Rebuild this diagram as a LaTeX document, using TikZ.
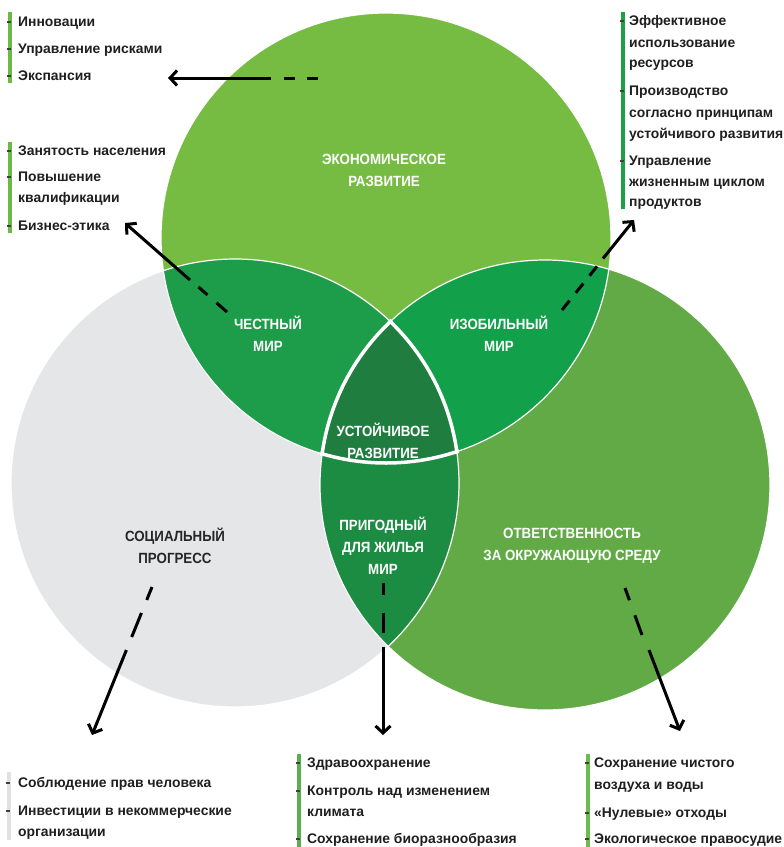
\documentclass[tikz,border=0pt]{standalone}
\usepackage{fontspec}
\setmainfont{Liberation Sans}
\newfontfamily\condfont{Liberation Sans}[FakeStretch=0.9]
\usetikzlibrary{arrows.meta}
\definecolor{cGray}{HTML}{E5E6E8}
\definecolor{cTop}{HTML}{76BC43}
\definecolor{cRight}{HTML}{62AA46}
\definecolor{cTL}{HTML}{1D9C4A}
\definecolor{cTR}{HTML}{12A04B}
\definecolor{cLR}{HTML}{1D8C43}
\definecolor{cC}{HTML}{1F7D3F}
\definecolor{barA}{HTML}{6DB946}
\definecolor{barB}{HTML}{1E9F4A}
\definecolor{barC}{HTML}{E0E0E0}
\definecolor{barD}{HTML}{5BAF4F}
\definecolor{barE}{HTML}{6CBB4E}
\begin{document}
\begin{tikzpicture}[x=1pt,y=-1pt,
  itm/.style={anchor=base west, inner sep=0pt, font=\fontsize{13.9}{15}\selectfont\bfseries, text=black!88},
  clab/.style={align=center, inner sep=0pt, font=\condfont\fontsize{14.8}{22}\selectfont\bfseries, text=white},
  arr/.style={line width=3pt, black, -{Straight Barb[length=7pt,width=15pt]}},
  dsh/.style={line width=3pt, black},
  bmark/.style={fill=black!75},
]
\useasboundingbox (0,0) rectangle (784,847);
\fill[white] (0,0) rectangle (784,847);

% circles
\fill[cGray] (235,483) circle (224pt);
\fill[cTop] (386,238) circle (225pt);
\fill[cRight] (545,485) circle (225pt);
\begin{scope}\clip (386,238) circle (225pt); \fill[cTL] (235,483) circle (224pt); \end{scope}
\begin{scope}\clip (386,238) circle (225pt); \fill[cTR] (545,485) circle (225pt); \end{scope}
\begin{scope}\clip (235,483) circle (224pt); \fill[cLR] (545,485) circle (225pt); \end{scope}
\begin{scope}\clip (386,238) circle (225pt); \clip (235,483) circle (224pt); \fill[cC] (545,485) circle (225pt); \end{scope}
% thin white outlines
\draw[white, line width=1.2pt] (386,238) circle (225pt);
\draw[white, line width=1.2pt] (235,483) circle (224pt);
\draw[white, line width=1.2pt] (545,485) circle (225pt);
% thick outline of the centre
\begin{scope}\clip (386,238) circle (227pt); \clip (235,483) circle (226pt); \draw[white, line width=3.5pt] (545,485) circle (225pt); \end{scope}
\begin{scope}\clip (386,238) circle (227pt); \clip (545,485) circle (227pt); \draw[white, line width=3.5pt] (235,483) circle (224pt); \end{scope}
\begin{scope}\clip (235,483) circle (226pt); \clip (545,485) circle (227pt); \draw[white, line width=3.5pt] (386,238) circle (225pt); \end{scope}

% circle labels
\node[clab] (econ) at (384,170) {ЭКОНОМИЧЕСКОЕ\\РАЗВИТИЕ};
\node[clab] (fair) at (268,334) {ЧЕСТНЫЙ\\МИР};
\node[clab] (abund) at (499,334) {ИЗОБИЛЬНЫЙ\\МИР};
\node[clab] (sust) at (383,441) {УСТОЙЧИВОЕ\\РАЗВИТИЕ};
\node[clab] (liv) at (383,546) {ПРИГОДНЫЙ\\ДЛЯ ЖИЛЬЯ\\МИР};
\node[clab, text=black!85] (soc) at (175,546) {СОЦИАЛЬНЫЙ\\ПРОГРЕСС};
\node[clab] (env) at (572,546) {ОТВЕТСТВЕННОСТЬ\\ЗА ОКРУЖАЮЩУЮ СРЕДУ};

% list 1 (top left)
\fill[barA] (8,12) rectangle (12,83);
\fill[bmark] (7,20.5) rectangle (11,22.5);
\fill[bmark] (7,47.5) rectangle (11,49.5);
\fill[bmark] (7,74.5) rectangle (11,76.5);
\node[itm] (i1a) at (18,26) {Инновации};
\node[itm] (i1b) at (18,53) {Управление рисками};
\node[itm] (i1c) at (18,80) {Экспансия};

% list 2 (left middle)
\fill[barA] (8,142) rectangle (12,233);
\fill[bmark] (7,149.5) rectangle (11,151.5);
\fill[bmark] (7,175.5) rectangle (11,177.5);
\fill[bmark] (7,224.5) rectangle (11,226.5);
\node[itm] (i2a) at (18,155) {Занятость населения};
\node[itm] (i2b) at (18,181) {Повышение};
\node[itm] (i2c) at (18,202) {квалификации};
\node[itm] (i2d) at (18,230) {Бизнес-этика};

% list 3 (top right)
\fill[barB] (621,12) rectangle (625,209);
\fill[bmark] (620,19.5) rectangle (624,21.5);
\fill[bmark] (620,89.5) rectangle (624,91.5);
\fill[bmark] (620,159.5) rectangle (624,161.5);
\node[itm] (i3a) at (629,25) {Эффективное};
\node[itm] (i3b) at (629,47) {использование};
\node[itm] (i3c) at (629,67) {ресурсов};
\node[itm] (i3d) at (629,95) {Производство};
\node[itm] (i3e) at (629,117) {согласно принципам};
\node[itm] (i3f) at (629,138) {устойчивого развития};
\node[itm] (i3g) at (629,165) {Управление};
\node[itm] (i3h) at (629,186) {жизненным циклом};
\node[itm] (i3i) at (629,206) {продуктов};

% list 4 (bottom left)
\fill[barC] (7,772) rectangle (11,840);
\fill[bmark] (6,781.5) rectangle (10,783.5);
\fill[bmark] (6,809.5) rectangle (10,811.5);
\node[itm] (i4a) at (18,787) {Соблюдение прав человека};
\node[itm] (i4b) at (18,815) {Инвестиции в некоммерческие};
\node[itm] (i4c) at (18,836) {организации};

% list 5 (bottom middle)
\fill[barD] (297,754) rectangle (301,847);
\fill[bmark] (296,761.5) rectangle (300,763.5);
\fill[bmark] (296,789.5) rectangle (300,791.5);
\fill[bmark] (296,837.5) rectangle (300,839.5);
\node[itm] (i5a) at (307,767) {Здравоохранение};
\node[itm] (i5b) at (307,795) {Контроль над изменением};
\node[itm] (i5c) at (307,816) {климата};
\node[itm] (i5d) at (307,843) {Сохранение биоразнообразия};

% list 6 (bottom right)
\fill[barE] (586,754) rectangle (590,847);
\fill[bmark] (585,761.5) rectangle (589,763.5);
\fill[bmark] (585,811.5) rectangle (589,813.5);
\fill[bmark] (585,837.5) rectangle (589,839.5);
\node[itm] (i6a) at (594,767) {Сохранение чистого};
\node[itm] (i6b) at (594,789) {воздуха и воды};
\node[itm] (i6c) at (594,817) {«Нулевые» отходы};
\node[itm] (i6d) at (594,843) {Экологическое правосудие};

% arrows
\coordinate (a1s) at (318,78); \coordinate (a1m) at (280,78);
\coordinate (a1n) at (271,78); \coordinate (a1t) at (168,78);
\draw[dsh, dash pattern=on 11pt off 12pt] (a1s) -- (a1m);
\draw[arr] (a1n) -- (a1t);

\coordinate (a2s) at (227,312); \coordinate (a2m) at (198.5,287);
\coordinate (a2n) at (190,280); \coordinate (a2t) at (125,223);
\draw[dsh, dash pattern=on 14pt off 12pt] (a2s) -- (a2m);
\draw[arr] (a2n) -- (a2t);

\coordinate (a3s) at (562,310); \coordinate (a3m) at (597,266.3);
\coordinate (a3n) at (603,258.5); \coordinate (a3t) at (634,220);
\draw[dsh, dash pattern=on 12pt off 10pt] (a3s) -- (a3m);
\draw[arr] (a3n) -- (a3t);

\coordinate (a4s) at (152,587); \coordinate (a4m) at (131.7,637);
\coordinate (a4n) at (126.4,650); \coordinate (a4t) at (92,735);
\draw[dsh, dash pattern=on 14pt off 14pt on 26pt off 14pt] (a4s) -- (a4m);
\draw[arr] (a4n) -- (a4t);

\coordinate (a5s) at (383,583); \coordinate (a5m) at (383,633);
\coordinate (a5n) at (383,647); \coordinate (a5t) at (383,735);
\draw[dsh, dash pattern=on 12pt off 18pt on 20pt off 14pt] (a5s) -- (a5m);
\draw[arr] (a5n) -- (a5t);

\coordinate (a6s) at (625,588); \coordinate (a6m) at (642,635);
\coordinate (a6n) at (649,650); \coordinate (a6t) at (680,731);
\draw[dsh, dash pattern=on 13pt off 16pt on 22pt off 16pt] (a6s) -- (a6m);
\draw[arr] (a6n) -- (a6t);
\end{tikzpicture}
\end{document}
